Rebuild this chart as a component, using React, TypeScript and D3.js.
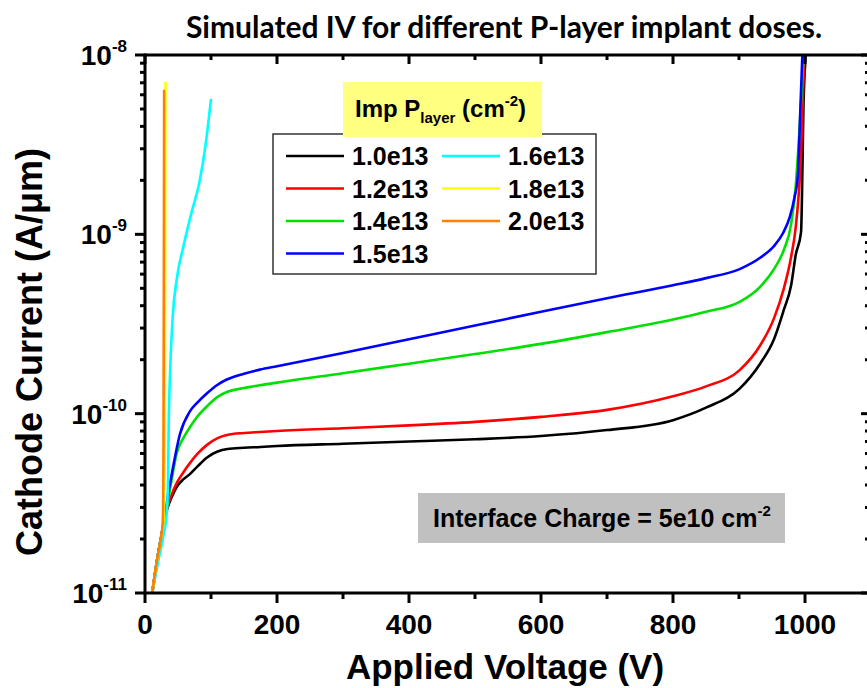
import React from 'react';
import * as d3 from 'd3';

const W = 867;
const H = 688;

const xMajorTicks = [0, 200, 400, 600, 800, 1000];
const xMinorTicks = [100, 300, 500, 700, 900, 1100];
const yDecades = [1e-11, 1e-10, 1e-9, 1e-8];
const yDecadeExp = ['-11', '-10', '-9', '-8'];

const seriesNames = ['1.0e13', '1.2e13', '1.4e13', '1.5e13', '1.6e13', '1.8e13', '2.0e13'];
const seriesColors = ['#000000', '#ff0000', '#00e000', '#0000ff', '#00ffff', '#ffff00', '#ff8000'];

const v10 = [11, 18, 25, 33, 40, 48, 58, 68, 80, 94, 110, 125, 150, 175, 200, 300, 400, 500, 600, 700, 800, 850, 901, 932, 953, 968, 979, 986, 994, 998, 1001];
const i10 = [1.0e-11, 1.5e-11, 2.1e-11, 2.9e-11, 3.4e-11, 3.9e-11, 4.3e-11, 4.6e-11, 5.1e-11, 5.7e-11, 6.15e-11, 6.35e-11, 6.45e-11, 6.52e-11, 6.6e-11, 6.8e-11, 7.0e-11, 7.2e-11, 7.5e-11, 8.1e-11, 9.2e-11, 1.08e-10, 1.38e-10, 1.9e-10, 2.6e-10, 3.8e-10, 5.2e-10, 7.7e-10, 1.03e-9, 5.8e-9, 1.0e-8];

const v12 = [11, 18, 25, 33, 40, 48, 58, 68, 80, 94, 110, 124, 150, 174, 200, 300, 400, 500, 600, 700, 800, 850, 901, 932, 953, 968, 979, 986, 994, 999];
const i12 = [1.0e-11, 1.5e-11, 2.1e-11, 2.9e-11, 3.5e-11, 4.1e-11, 4.7e-11, 5.3e-11, 6.0e-11, 6.7e-11, 7.3e-11, 7.6e-11, 7.8e-11, 7.9e-11, 8.0e-11, 8.3e-11, 8.6e-11, 9.0e-11, 9.6e-11, 1.05e-10, 1.25e-10, 1.42e-10, 1.75e-10, 2.4e-10, 3.4e-10, 5.0e-10, 7.5e-10, 1.1e-9, 2.8e-9, 1.0e-8];

const v14 = [11, 18, 25, 33, 40, 48, 58, 68, 80, 94, 110, 124, 150, 174, 200, 300, 400, 500, 600, 700, 800, 850, 901, 932, 953, 968, 979, 986, 991, 998];
const i14 = [1.0e-11, 1.5e-11, 2.1e-11, 3.0e-11, 4.2e-11, 6.0e-11, 7.3e-11, 8.4e-11, 9.7e-11, 1.1e-10, 1.24e-10, 1.32e-10, 1.39e-10, 1.44e-10, 1.49e-10, 1.68e-10, 1.9e-10, 2.15e-10, 2.45e-10, 2.85e-10, 3.35e-10, 3.7e-10, 4.2e-10, 5.1e-10, 6.4e-10, 8.2e-10, 1.14e-9, 1.87e-9, 3.5e-9, 1.0e-8];

const v15 = [11, 18, 25, 33, 41, 53, 68, 80, 94, 110, 124, 150, 174, 200, 300, 400, 500, 600, 700, 800, 850, 901, 932, 953, 967, 977, 984, 989, 993, 996];
const i15 = [1.0e-11, 1.5e-11, 2.1e-11, 3.2e-11, 4.7e-11, 7.7e-11, 1.03e-10, 1.16e-10, 1.3e-10, 1.45e-10, 1.55e-10, 1.67e-10, 1.76e-10, 1.84e-10, 2.18e-10, 2.6e-10, 3.1e-10, 3.7e-10, 4.4e-10, 5.2e-10, 5.7e-10, 6.4e-10, 7.4e-10, 8.6e-10, 1.02e-9, 1.25e-9, 1.6e-9, 2.1e-9, 5.0e-9, 1.0e-8];

const v16 = [11, 20, 28, 33, 35, 36, 38, 42, 48, 58, 70, 83, 92, 100];
const i16 = [1.0e-11, 1.5e-11, 2.1e-11, 2.8e-11, 4.5e-11, 9.0e-11, 1.7e-10, 3.5e-10, 5.6e-10, 8.5e-10, 1.3e-9, 2.0e-9, 3.2e-9, 5.7e-9];

const v18 = [11, 18, 24, 28.5, 30, 30.5, 31];
const i18 = [1.0e-11, 1.5e-11, 2.0e-11, 2.6e-11, 6.0e-11, 6.0e-10, 7.1e-9];

const v20 = [11, 18, 23, 27, 28, 28.5, 29];
const i20 = [1.0e-11, 1.5e-11, 1.9e-11, 2.5e-11, 6.0e-11, 5.0e-10, 6.4e-9];

const seriesV = [v10, v12, v14, v15, v16, v18, v20];
const seriesI = [i10, i12, i14, i15, i16, i18, i20];

const ARIAL = '"Liberation Sans", Arial, sans-serif';

export default function App() {
  const left = 145, right = 871, top = 55, bottom = 593;
  const x = d3.scaleLinear().domain([0, 1100]).range([left, right]);
  const y = d3.scaleLog().domain([1e-11, 1e-8]).range([bottom, top]);

  const line = d3
    .line<[number, number]>()
    .x((d) => x(d[0]))
    .y((d) => y(d[1]))
    .curve(d3.curveMonotoneX);

  const yMinor: number[] = [];
  for (let k = 0; k < 3; k++) {
    for (let m = 2; m <= 9; m++) yMinor.push(m * yDecades[k]);
  }

  const legendRows = [
    { col: 0, row: 0 }, { col: 0, row: 1 }, { col: 0, row: 2 }, { col: 0, row: 3 },
    { col: 1, row: 0 }, { col: 1, row: 1 }, { col: 1, row: 2 },
  ];

  return (
    <svg width={W} height={H} style={{ position: 'absolute', left: 0, top: 0, background: '#fff' }}>
      <defs>
        <clipPath id="plotClip">
          <rect x={left} y={top} width={right - left} height={bottom - top} />
        </clipPath>
      </defs>
      <rect x={0} y={0} width={W} height={H} fill="#fff" />

      <text x={504} y={38} textAnchor="middle" fontFamily="Lato, sans-serif" fontWeight="bold" fontSize={30} fill="#000">
        Simulated IV for different P-layer implant doses.
      </text>

      <g clipPath="url(#plotClip)">
        {seriesV.map((vs, si) => {
          const pts = vs.map((v, j) => [v, seriesI[si][j]] as [number, number]);
          return (
            <path key={si} d={line(pts) || ''} fill="none" stroke={seriesColors[si]} strokeWidth={2.6} strokeLinejoin="round" />
          );
        })}
      </g>

      {/* legend */}
      <rect x={273} y={134} width={323} height={140} fill="#fff" stroke="#333" strokeWidth={1.5} />
      <rect x={343} y={82} width={199} height={55} fill="#ffff80" />
      <text x={355} y={117} fontFamily={ARIAL} fontWeight="bold" fontSize={24} fill="#000">
        Imp P<tspan fontSize={15} dy={6}>layer</tspan><tspan dy={-6}> (cm</tspan><tspan fontSize={15} dy={-11}>-2</tspan><tspan dy={11}>)</tspan>
      </text>
      {legendRows.map((p, i) => {
        const lx = p.col === 0 ? 286 : 442;
        const cy = 156 + p.row * 32.5;
        return (
          <g key={i}>
            <line x1={lx} x2={lx + 58} y1={cy} y2={cy} stroke={seriesColors[i]} strokeWidth={2.6} />
            <text x={lx + 66} y={cy + 9} fontFamily={ARIAL} fontWeight="bold" fontSize={25} fill="#000">
              {seriesNames[i]}
            </text>
          </g>
        );
      })}

      {/* annotation */}
      <rect x={418} y={493} width={367} height={50} fill="#c0c0c0" />
      <text x={433} y={527} fontFamily={ARIAL} fontWeight="bold" fontSize={25} fill="#000">
        Interface Charge = 5e10 cm<tspan fontSize={15} dy={-11}>-2</tspan>
      </text>

      {/* axes frame */}
      <g stroke="#000" strokeWidth={3} fill="none">
        <line x1={left} x2={right} y1={bottom} y2={bottom} />
        <line x1={left} x2={right} y1={top} y2={top} />
        <line x1={left} x2={left} y1={top - 1.5} y2={bottom + 1.5} />
        <line x1={right} x2={right} y1={top} y2={bottom} />
      </g>
      <g stroke="#000" strokeWidth={3}>
        {xMajorTicks.map((t) => (
          <g key={'xM' + t}>
            <line x1={x(t)} x2={x(t)} y1={bottom} y2={bottom + 10} />
            <line x1={x(t)} x2={x(t)} y1={top} y2={top + 9} />
          </g>
        ))}
        {xMinorTicks.map((t) => (
          <g key={'xm' + t}>
            <line x1={x(t)} x2={x(t)} y1={bottom} y2={bottom + 6} />
            <line x1={x(t)} x2={x(t)} y1={top} y2={top + 5} />
          </g>
        ))}
        {yDecades.map((t) => (
          <g key={'yM' + t}>
            <line x1={left} x2={left - 10} y1={y(t)} y2={y(t)} />
            <line x1={right} x2={right - 10} y1={y(t)} y2={y(t)} />
          </g>
        ))}
        {yMinor.map((t) => (
          <g key={'ym' + t}>
            <line x1={left} x2={left - 5} y1={y(t)} y2={y(t)} />
            <line x1={right} x2={right - 6} y1={y(t)} y2={y(t)} />
          </g>
        ))}
      </g>

      {/* tick labels */}
      {xMajorTicks.map((t) => (
        <text key={'xl' + t} x={x(t)} y={634} textAnchor="middle" fontFamily={ARIAL} fontWeight="bold" fontSize={28} fill="#000">
          {t}
        </text>
      ))}
      {yDecades.map((t, i) => (
        <text key={'yl' + t} x={127} y={y(t) + 10} textAnchor="end" fontFamily={ARIAL} fontWeight="bold" fontSize={28} fill="#000">
          10<tspan fontSize={17} dy={-13}>{yDecadeExp[i]}</tspan>
        </text>
      ))}

      {/* axis titles */}
      <text x={505} y={679} textAnchor="middle" fontFamily={ARIAL} fontWeight="bold" fontSize={35} fill="#000">
        Applied Voltage (V)
      </text>
      <text transform="translate(42,352) rotate(-90)" textAnchor="middle" fontFamily={ARIAL} fontWeight="bold" fontSize={36} fill="#000">
        Cathode Current (A/μm)
      </text>
    </svg>
  );
}
